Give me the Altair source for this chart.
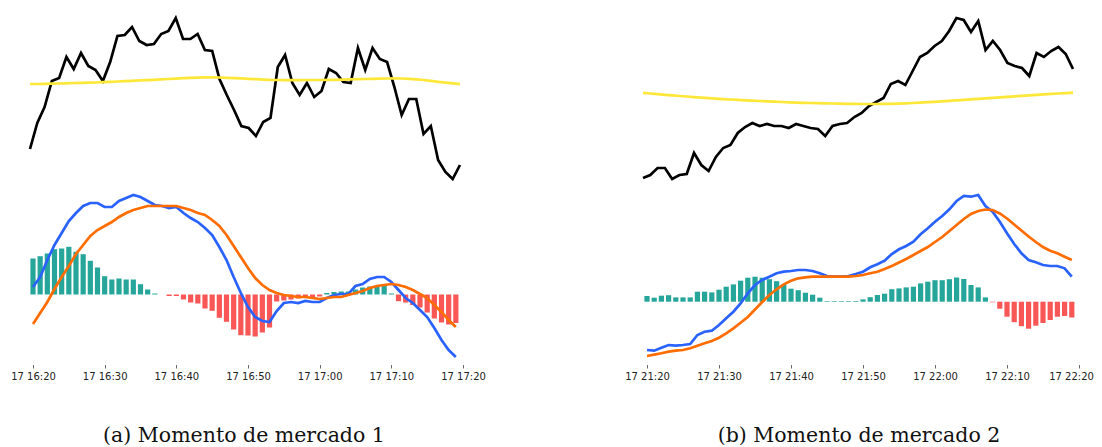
import altair as alt
import pandas as pd

# ---------------- data ----------------
MINUTES = list(range(60))
TICKS = [0, 10, 20, 30, 40, 50, 60]
TICK_LABELS_A = ["17 16:20", "17 16:30", "17 16:40", "17 16:50", "17 17:00", "17 17:10", "17 17:20"]
TICK_LABELS_B = ["17 21:20", "17 21:30", "17 21:40", "17 21:50", "17 22:00", "17 22:10", "17 22:20"]
CAPTION_A = "(a) Momento de mercado 1"
CAPTION_B = "(b) Momento de mercado 2"

# Panel (a): price, moving average, MACD, signal, histogram (arbitrary units)
PRICE_A = [51, 77, 93, 119, 122, 143, 131, 147, 134, 130,
           119, 138, 164, 165, 173, 159, 155, 156, 166, 169,
           182, 161, 161, 166, 150, 149, 121, 105, 90, 74,
           72, 64, 78, 82, 133, 145, 117, 105, 117, 103,
           109, 131, 127, 118, 117, 152, 130, 152, 141, 138,
           113, 85, 101, 101, 66, 74, 40, 28, 21, 35]
MA_A = [116, 116, 116.1, 116.3, 116.5, 116.7, 117, 117.2, 117.3, 117.5,
        117.8, 118.2, 118.5, 118.8, 119.2, 119.6, 119.9, 120.2, 120.6, 121,
        121.4, 121.8, 122.2, 122.4, 122.6, 122.6, 122.5, 122.2, 121.9, 121.6,
        121.2, 120.8, 120.4, 120.1, 120, 119.9, 119.9, 119.9, 120, 120,
        120, 120.1, 120.2, 120.4, 120.6, 120.8, 121, 121.1, 121.3, 121.5,
        121.6, 121.5, 121.2, 120.7, 120, 119.1, 118.2, 117.4, 116.6, 115.8]
MACD_A = [7.5, 17.5, 34.5, 49.5, 61.5, 73.5, 81.5, 88.5, 91.5, 91.5,
          87.5, 87.5, 93.5, 96.5, 99.5, 97.5, 93.5, 89.5, 88.5, 86.5,
          87.5, 81.5, 76.5, 72.5, 66.5, 59.5, 47.5, 34.5, 17.5, 1.5,
          -12.5, -22.5, -26.5, -27.5, -16.5, -8.5, -7.5, -8.5, -6.5, -7.5,
          -7.5, -3.5, -0.5, 0.5, 0.5, 8.5, 10.5, 15.5, 17.5, 17.5,
          12.5, 4.5, -3.5, -8.5, -15.5, -22.5, -33.5, -45.5, -55.5, -62.5]
SIGNAL_A = [-29.5, -18.5, -7.5, 5.5, 17.5, 28.5, 40.5, 49.5, 58.5, 64.5,
            68.5, 72.5, 77.5, 81.5, 84.5, 86.5, 88.5, 88.5, 88.5, 88.5,
            88.5, 86.5, 84.5, 81.5, 79.5, 74.5, 68.5, 59.5, 48.5, 37.5,
            26.5, 16.5, 9.5, 4.5, 1.5, -0.5, -1.5, -2.5, -2.5, -3.5,
            -4.5, -3.5, -2.5, -2.5, -0.5, 1.5, 3.5, 6.5, 8.5, 9.5,
            10.5, 9.5, 7.5, 4.5, 0.5, -3.5, -10.5, -17.5, -25.5, -32.5]
HIST_A = [36, 38.3, 41, 45.3, 46, 47.7, 42.7, 40.3, 33.7, 27,
          18.3, 15, 16, 15, 15, 10.3, 5, 1, 0, -1.5,
          -1.5, -5, -8, -9, -14, -16.3, -23.3, -27.3, -35, -40.7,
          -41, -42, -38, -33, -7, -6, -5, -4, -3.5, -3,
          -2, 1.5, 2.5, 3, 3, 5, 7, 8, 9, 9,
          1, -6.7, -8, -10.5, -13, -18, -24, -28, -30, -28.5]

# Panel (b)
PRICE_B = [22, 25, 32, 32, 21, 25, 26, 47, 35, 29,
           43, 52, 55, 67, 73, 77, 74, 76, 74, 74,
           72, 76, 74, 72, 71, 64, 74, 76, 77, 83,
           87, 94, 98, 102, 116, 119, 115, 129, 143, 147,
           154, 159, 169, 182, 180, 168, 179, 150, 159, 150,
           137, 134, 132, 124, 147, 143, 149, 153, 146, 131]
MA_B = [107.1, 106.5, 105.9, 105.2, 104.6, 104, 103.5, 102.9, 102.4, 101.9,
        101.4, 100.9, 100.5, 100.1, 99.7, 99.3, 99, 98.6, 98.3, 98,
        97.7, 97.4, 97.2, 97, 96.8, 96.6, 96.5, 96.3, 96.2, 96.1,
        96, 96, 96, 96.1, 96.2, 96.4, 96.7, 97, 97.4, 97.8,
        98.2, 98.7, 99.2, 99.7, 100.2, 100.7, 101.2, 101.7, 102.2, 102.7,
        103.2, 103.7, 104.2, 104.7, 105.2, 105.7, 106.1, 106.5, 106.9, 107.3]
MACD_B = [-48.3, -49, -46, -43.3, -44, -43.3, -42.3, -33.3, -30, -29,
          -23.3, -16.6, -10, -1.6, 8.4, 16.7, 21.7, 25, 28.4, 30,
          30.7, 31.7, 31.7, 30.7, 28.4, 25.7, 25, 25, 25.7, 27.7,
          30, 34.4, 37.4, 41, 47.7, 52.4, 55.7, 60, 67.4, 73.4,
          80, 85.7, 92.4, 100.7, 105.7, 105, 106.7, 95.7, 90, 80,
          68.4, 57.7, 48.4, 41.7, 39.4, 36.7, 35.7, 35.7, 33.4, 25]
SIGNAL_B = [-54.3, -53, -51.6, -50, -49, -48.3, -46.6, -44, -41.6, -39.3,
            -36, -31.6, -26.6, -21, -15.3, -7.8, -0.3, 6.7, 12.4, 17.4,
            21, 23.4, 24.4, 25, 25, 25, 25, 25, 25, 25.7,
            26.7, 28.4, 30, 32.7, 35.7, 39.2, 42.7, 46.7, 50.7, 54.7,
            59.7, 64.7, 70.7, 76.7, 82.7, 87.7, 90.7, 92.2, 91.7, 88.2,
            83.2, 77.2, 71.2, 65.2, 59.7, 54.7, 51, 48.4, 45, 41.7]
HIST_B = [5.7, 4, 6, 6.5, 4.3, 4.3, 4.3, 10, 10, 9.3,
          12, 15, 17.3, 21, 24, 25, 24, 22.5, 20.5, 17.3,
          13, 11.5, 9, 7, 4, 0.6, 0.6, 0.6, 0.6, 0.7,
          2.3, 4.5, 6.8, 8, 12.5, 13.3, 14.3, 15, 18.3, 20,
          21.5, 21.5, 22.5, 24.2, 22.7, 16.7, 14.3, 4.3, -0.6, -7,
          -15, -20.5, -24.5, -27, -24, -21.3, -18.3, -15, -14.3, -15.8]

# ---------------- styling ----------------
GREEN = "#26a69a"
RED = "#f95656"
BLUE = "#2962ff"
ORANGE = "#ff6d00"
YELLOW = "#fde83a"
BLACK = "#000000"
LINE_W = 2.7
PLOT_H = 352
PRICE_DOMAIN = [-162, 190]


def panel(price, ma, macd, signal, hist, tick_labels, xdom, xdom_price, width,
          macd_dom, caption, cap_dx, last_label_shift):
    df = pd.DataFrame({"t": MINUTES, "price": price, "ma": ma,
                       "macd": macd, "signal": signal, "hist": hist})
    label_expr = "[" + ",".join("'%s'" % s for s in tick_labels) + "][round(datum.value / 10)]"
    xscale = alt.Scale(domain=xdom, nice=False, zero=False, padding=0)
    x_axis = alt.X("t:Q", scale=xscale,
                   axis=alt.Axis(values=TICKS, labelExpr=label_expr, title=None, grid=False,
                                 domain=False, ticks=True, tickSize=3.5, tickWidth=0.8,
                                 tickColor="#444444", offset=2.5, labelFont="DejaVu Sans",
                                 labelFontSize=10, labelColor="#222222", labelPadding=3,
                                 labelFlush=False, labelOverlap=False,
                                 labelOffset={"condition": {"test": "datum.value === 60",
                                                            "value": last_label_shift},
                                              "value": 0}))
    x_plain = alt.X("t:Q", scale=xscale, axis=None)
    # the upper (price) subplot has its own, slightly narrower x range
    x_price = alt.X("t:Q", scale=alt.Scale(domain=xdom_price, nice=False, zero=False, padding=0),
                    axis=None)
    pscale = alt.Scale(domain=PRICE_DOMAIN, nice=False, zero=False, padding=0)
    mscale = alt.Scale(domain=macd_dom, nice=False, zero=False, padding=0)
    base = alt.Chart(df)

    bars = base.transform_calculate(
        sign="datum.hist >= 0 ? 'pos' : 'neg'"
    ).mark_bar(size=5.2).encode(
        x=x_axis,
        y=alt.Y("hist:Q", scale=mscale, axis=None),
        y2=alt.datum(0),
        color=alt.Color("sign:N", scale=alt.Scale(domain=["pos", "neg"], range=[GREEN, RED]),
                        legend=None),
    )
    macd_line = base.mark_line(color=BLUE, strokeWidth=LINE_W).encode(
        x=x_plain, y=alt.Y("macd:Q", scale=mscale, axis=None))
    signal_line = base.mark_line(color=ORANGE, strokeWidth=LINE_W).encode(
        x=x_plain, y=alt.Y("signal:Q", scale=mscale, axis=None))
    price_line = base.mark_line(color=BLACK, strokeWidth=LINE_W).encode(
        x=x_price, y=alt.Y("price:Q", scale=pscale, axis=None))
    ma_line = base.mark_line(color=YELLOW, strokeWidth=LINE_W).encode(
        x=x_price, y=alt.Y("ma:Q", scale=pscale, axis=None))

    return alt.layer(bars, macd_line, signal_line, price_line, ma_line).resolve_scale(
        x="independent", y="independent"
    ).properties(
        width=width, height=PLOT_H,
        title=alt.TitleParams(text=caption, orient="bottom", font="DejaVu Serif",
                              fontSize=20.5, fontWeight="normal", color="#111111",
                              offset=45, dx=cap_dx, anchor="middle"),
    )


panel_a = panel(PRICE_A, MA_A, MACD_A, SIGNAL_A, HIST_A, TICK_LABELS_A,
                [-3.209, 63.767], [-2.744, 63.12], 480, [-67.5, 284.5], CAPTION_A, -6, 0)
panel_b = panel(PRICE_B, MA_B, MACD_B, SIGNAL_B, HIST_B, TICK_LABELS_B,
                [-3.75, 62.083], [-3.156, 61.88], 474, [-60.3, 291.7], CAPTION_B, 2, -8)

chart = alt.hconcat(panel_a, panel_b, spacing=130).properties(
    padding={"left": 2, "top": 2, "right": 0, "bottom": 0}
).configure_view(stroke=None)

chart.save("out.html", embed_options={"renderer": "svg", "actions": False})
